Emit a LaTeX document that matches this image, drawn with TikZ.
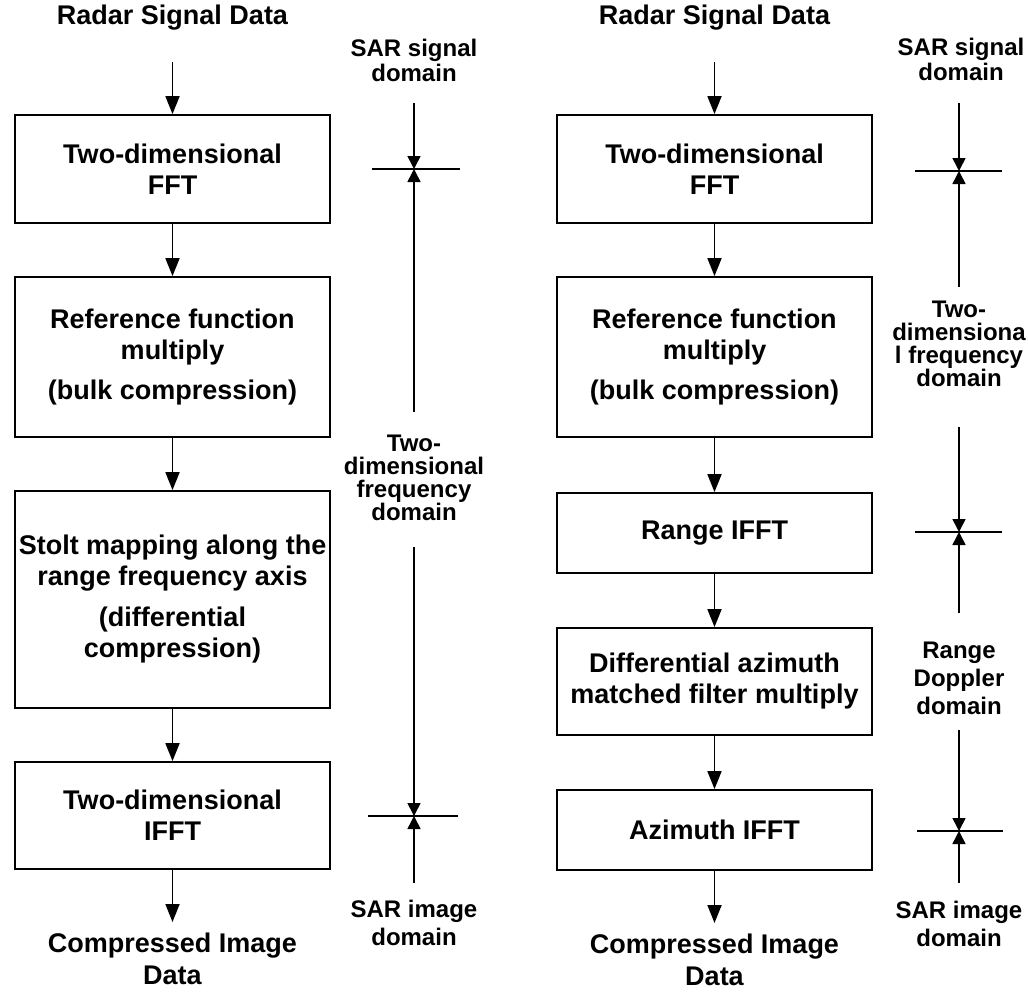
\documentclass[tikz,border=0pt]{standalone}
\usepackage{fontspec}
\setmainfont{Liberation Sans}
\usetikzlibrary{arrows.meta}
\newcommand\bxfont{\bfseries\fontsize{27}{31}\selectfont}
\begin{document}
\begin{tikzpicture}[x=1pt,y=-1pt,
  box/.style={draw, line width=1.8pt, minimum width=315pt, align=center, inner sep=0pt, font=\bxfont},
  io/.style={align=center, inner sep=0pt, font=\bfseries\fontsize{27}{32}\selectfont},
  dom/.style={align=center, inner sep=0pt, font=\bfseries\fontsize{24}{#1}\selectfont},
  dom/.default=25,
  flow/.style={line width=1.8pt, -{Triangle[length=18pt,width=14pt]}},
  domarrow/.style={line width=1.6pt, -{Triangle[length=13pt,width=13pt]}},
  tickline/.style={line width=1.6pt}]
\useasboundingbox (0,0) rectangle (1028,991);

% ---------------- left chain: Stolt interpolation ----------------
\node[io] (Lin) at (172.5,18) {Radar Signal Data};
\coordinate (Lin-end) at (172.5,62);
\node[box, minimum height=108pt] (L1) at (172.5,169) {Two-dimensional\\FFT};
\node[box, minimum height=160pt] (L2) at (172.5,357) {Reference function\\multiply\\[9pt](bulk compression)};
\node[box, minimum height=217pt] (L3) at (172.5,599.5) {Stolt mapping along the\\range frequency axis\\[10pt](differential\\compression)};
\node[box, minimum height=107pt] (L4) at (172.5,815.5) {Two-dimensional\\IFFT};
\coordinate (Lout-end) at (172.5,922);
\node[io] (Lout) at (172.5,959) {Compressed Image\\Data};

\draw[flow] (Lin-end) -- (L1.north);
\draw[flow] (L1.south) -- (L2.north);
\draw[flow] (L2.south) -- (L3.north);
\draw[flow] (L3.south) -- (L4.north);
\draw[flow] (L4.south) -- (Lout-end);

% left domain scale
\node[dom] (Ld1) at (414,60) {SAR signal\\domain};
\node[dom=23] (Ld2) at (414,478) {Two-\\dimensional\\frequency\\domain};
\node[dom=28] (Ld3) at (414,923) {SAR image\\domain};
\coordinate (La0) at (414,103);
\coordinate (Lt1) at (414,169);
\coordinate (La1) at (414,412);
\coordinate (La2) at (414,547);
\coordinate (Lt2) at (414,816);
\coordinate (La3) at (414,883);
\draw[tickline] (Lt1) ++(-42,0) -- ++(88,0);
\draw[tickline] (Lt2) ++(-46,0) -- ++(90,0);
\draw[domarrow] (La0) -- (Lt1);
\draw[domarrow] (La1) -- (Lt1);
\draw[domarrow] (La2) -- (Lt2);
\draw[domarrow] (La3) -- (Lt2);

% ---------------- right chain: range-Doppler variant ----------------
\node[io] (Rin) at (714.5,18) {Radar Signal Data};
\coordinate (Rin-end) at (714.5,62);
\node[box, minimum height=108pt] (R1) at (714.5,169) {Two-dimensional\\FFT};
\node[box, minimum height=160pt] (R2) at (714.5,357) {Reference function\\multiply\\[9pt](bulk compression)};
\node[box, minimum height=80pt] (R3) at (714.5,533) {Range IFFT};
\node[box, minimum height=107pt] (R4) at (714.5,681.5) {Differential azimuth\\matched filter multiply};
\node[box, minimum height=80pt] (R5) at (714.5,830) {Azimuth IFFT};
\coordinate (Rout-end) at (714.5,923);
\node[io] (Rout) at (714.5,960) {Compressed Image\\Data};

\draw[flow] (Rin-end) -- (R1.north);
\draw[flow] (R1.south) -- (R2.north);
\draw[flow] (R2.south) -- (R3.north);
\draw[flow] (R3.south) -- (R4.north);
\draw[flow] (R4.south) -- (R5.north);
\draw[flow] (R5.south) -- (Rout-end);

% right domain scale
\node[dom] (Rd1) at (961,59) {SAR signal\\domain};
\node[dom=23] (Rd2) at (959,344) {Two-\\dimensiona\\l frequency\\domain};
\node[dom=28] (Rd3) at (959,678) {Range\\Doppler\\domain};
\node[dom=28] (Rd4) at (959,924) {SAR image\\domain};
\coordinate (Ra0) at (959,103);
\coordinate (Rt1) at (959,171);
\coordinate (Ra1) at (959,287);
\coordinate (Ra2) at (959,427);
\coordinate (Rt2) at (959,532);
\coordinate (Ra3) at (959,613);
\coordinate (Ra4) at (959,730);
\coordinate (Rt3) at (959,831);
\coordinate (Ra5) at (959,883);
\draw[tickline] (Rt1) ++(-44,0) -- ++(87,0);
\draw[tickline] (Rt2) ++(-44,0) -- ++(87,0);
\draw[tickline] (Rt3) ++(-42,0) -- ++(86,0);
\draw[domarrow] (Ra0) -- (Rt1);
\draw[domarrow] (Ra1) -- (Rt1);
\draw[domarrow] (Ra2) -- (Rt2);
\draw[domarrow] (Ra3) -- (Rt2);
\draw[domarrow] (Ra4) -- (Rt3);
\draw[domarrow] (Ra5) -- (Rt3);
\end{tikzpicture}
\end{document}
